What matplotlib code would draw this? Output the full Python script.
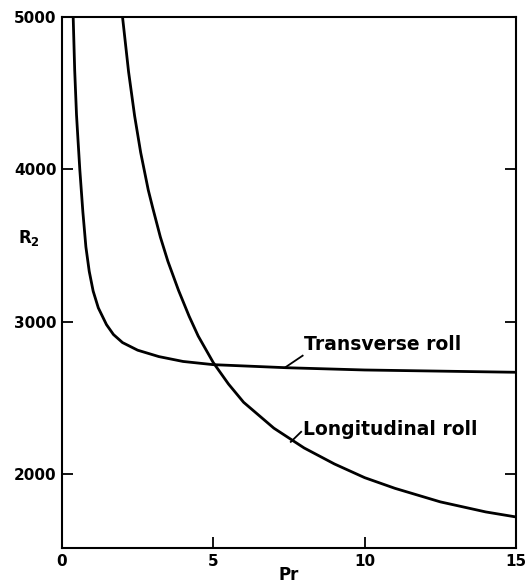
import numpy as np
import matplotlib
matplotlib.use("Agg")
import matplotlib.pyplot as plt

# values
pr_trans = [0.37, 0.42, 0.48, 0.53, 0.59, 0.69, 0.79, 0.90, 1.03, 1.2, 1.47, 1.7, 2.0, 2.5, 3.2, 4.0, 5.0, 7.4, 10, 15]
r_trans = [5000, 4650, 4357, 4190, 3995, 3720, 3490, 3330, 3200, 3090, 2980, 2915, 2862, 2812, 2770, 2738, 2717, 2697, 2682, 2667]

pr_long = [2.0, 2.2, 2.4, 2.6, 2.85, 3.0, 3.25, 3.5, 3.85, 4.2, 4.5, 5.0, 5.5, 6.0, 7.0, 8.0, 9.0, 10, 11, 12.5, 14, 15]
r_long = [5000, 4640, 4350, 4110, 3864, 3745, 3555, 3395, 3205, 3035, 2905, 2730, 2590, 2470, 2300, 2170, 2065, 1975, 1905, 1816, 1750, 1717]

xticks = [0, 5, 10, 15]
yticks = [2000, 3000, 4000, 5000]

plt.rcParams['font.family'] = ['DejaVu Sans']

fig = plt.figure(figsize=(5.32, 5.85), dpi=100)
ax = fig.add_axes([0.1165, 0.0632, 0.8535, 0.9078])

ax.plot(pr_trans, r_trans, color="black", lw=2.0)
ax.plot(pr_long, r_long, color="black", lw=2.0)

ax.set_xlim(0, 15)
ax.set_ylim(1513, 5000)
ax.set_xticks(xticks)
ax.set_yticks(yticks)
ax.set_xticklabels([str(t) for t in xticks], fontsize=11, fontweight="bold")
ax.set_yticklabels([str(t) for t in yticks], fontsize=11, fontweight="bold")
ax.tick_params(direction="in", length=8, width=1.3, right=True, top=False, pad=4)
for s in ax.spines.values():
    s.set_linewidth(1.5)

ax.set_xlabel("Pr", fontsize=12, fontweight="bold", labelpad=-2)
ax.text(-0.048, 0.584, "R$_\\mathbf{2}$", transform=ax.transAxes, fontsize=12, fontweight="bold",
        ha="right", va="center")

# curve labels with small leader lines
ax.plot([7.36, 7.95], [2697, 2776], color="black", lw=1.3)
ax.text(8.0, 2850, "Transverse roll", fontsize=13.5, fontweight="bold", ha="left", va="center")
ax.plot([7.56, 7.9], [2210, 2276], color="black", lw=1.3)
ax.text(7.95, 2290, "Longitudinal roll", fontsize=13.5, fontweight="bold", ha="left", va="center")

fig.savefig("out.png", dpi=100)
